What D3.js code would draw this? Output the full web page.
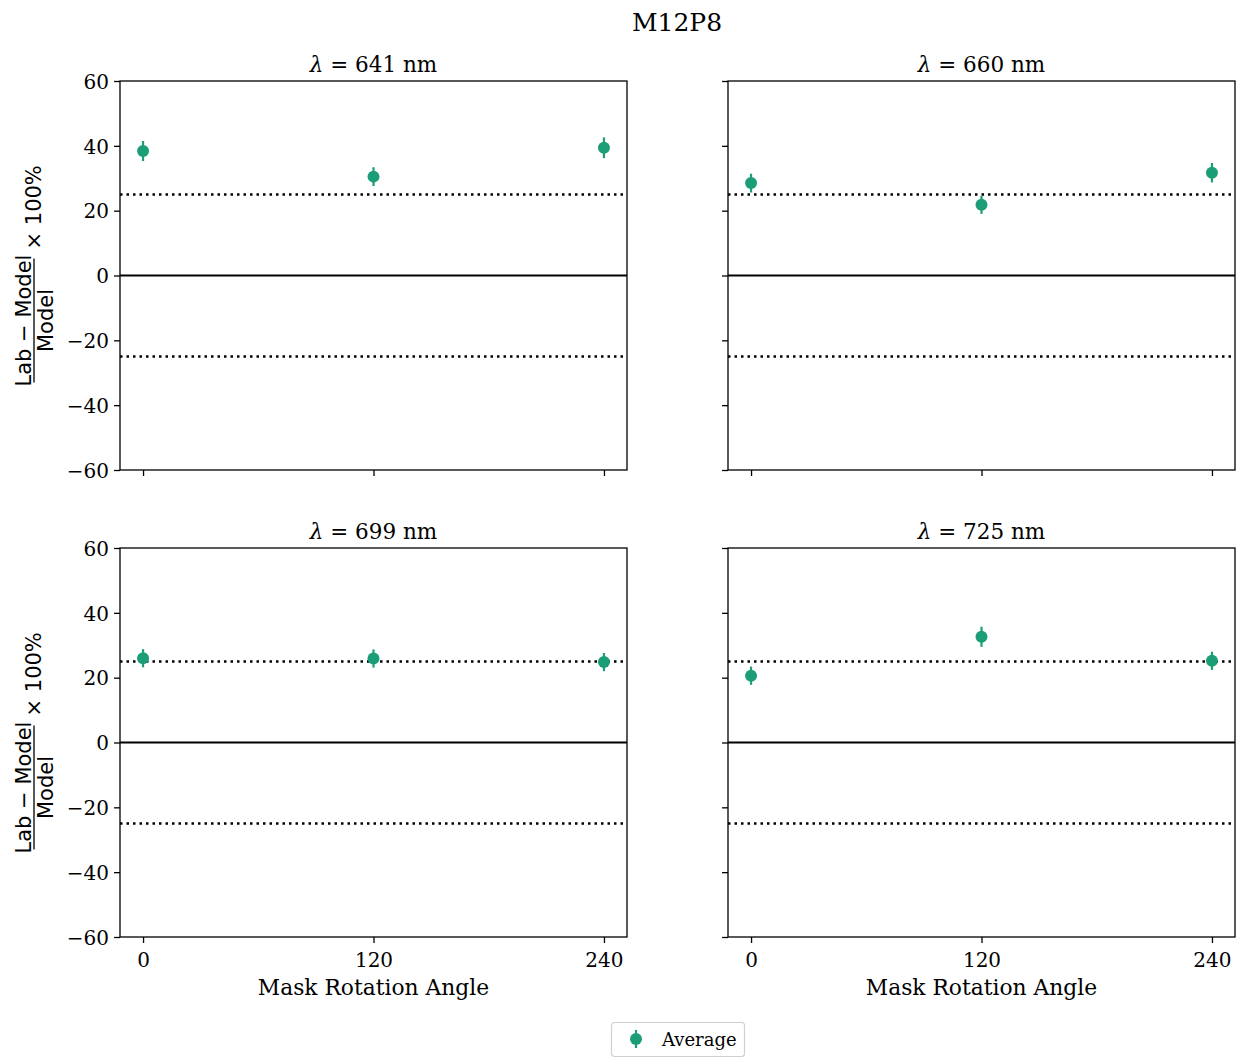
<!DOCTYPE html>
<html>
<head>
<meta charset="utf-8">
<script src="https://cdn.jsdelivr.net/npm/d3@7"></script>
<style>
  html, body { margin: 0; padding: 0; background: #fff; }
  svg { display: block; }
  .serif { font-family: "DejaVu Serif", serif; }
  .sans { font-family: "DejaVu Sans", sans-serif; }
</style>
</head>
<body>
<svg id="chart" width="1243" height="1057"></svg>
<script>
// Relative deviation of lab measurement from model, per wavelength and mask angle
const angles = [0, 120, 240];
const wavelengths = [641, 660, 699, 725];
const avg641 = [38.4, 30.5, 39.4];
const err641 = [3.1, 2.9, 3.2];
const avg660 = [28.5, 21.8, 31.7];
const err660 = [2.9, 2.8, 3.0];
const avg699 = [26.0, 25.9, 24.8];
const err699 = [2.8, 2.8, 2.8];
const avg725 = [20.6, 32.6, 25.2];
const err725 = [2.8, 3.1, 2.8];
const yTicks = [-60, -40, -20, 0, 20, 40, 60];
const xTicks = [0, 120, 240];
const refLines = [25, -25];

const series = [
  { wl: wavelengths[0], avg: avg641, err: err641 },
  { wl: wavelengths[1], avg: avg660, err: err660 },
  { wl: wavelengths[2], avg: avg699, err: err699 },
  { wl: wavelengths[3], avg: avg725, err: err725 }
];

const color = "#1b9e77";
const W = 507, H = 389;
const origins = [[120, 81], [728, 81], [120, 548], [728, 548]];

const svg = d3.select("#chart");

const x = d3.scaleLinear().domain([-12, 252]).range([0, W]);
const y = d3.scaleLinear().domain([-60, 60]).range([H, 0]);

svg.append("text")
  .attr("class", "serif")
  .attr("x", 677).attr("y", 31)
  .attr("text-anchor", "middle")
  .attr("font-size", 25)
  .text("M12P8");

series.forEach((s, i) => {
  const [ox, oy] = origins[i];
  const col = i % 2, row = Math.floor(i / 2);
  const g = svg.append("g").attr("transform", `translate(${ox},${oy})`);

  // reference lines
  g.append("line")
    .attr("x1", 0).attr("x2", W)
    .attr("y1", y(0)).attr("y2", y(0))
    .attr("stroke", "#000").attr("stroke-width", 2.2);
  refLines.forEach(v => {
    g.append("line")
      .attr("x1", 0).attr("x2", W)
      .attr("y1", y(v)).attr("y2", y(v))
      .attr("stroke", "#000").attr("stroke-width", 2.5)
      .attr("stroke-dasharray", "2.5,4");
  });

  // error bars and markers
  const pts = angles.map((a, k) => ({ a, v: s.avg[k], e: s.err[k] }));
  g.selectAll(".eb").data(pts).enter().append("line")
    .attr("x1", d => x(d.a)).attr("x2", d => x(d.a))
    .attr("y1", d => y(d.v - d.e)).attr("y2", d => y(d.v + d.e))
    .attr("stroke", color).attr("stroke-width", 2.2);
  g.selectAll(".pt").data(pts).enter().append("circle")
    .attr("cx", d => x(d.a)).attr("cy", d => y(d.v))
    .attr("r", 6).attr("fill", color);

  // axes
  const yAxis = d3.axisLeft(y).tickValues(yTicks).tickSize(6).tickPadding(5);
  if (col === 1) yAxis.tickFormat("");
  const ya = g.append("g").call(yAxis);
  const xAxis = d3.axisBottom(x).tickValues(xTicks).tickSize(6).tickPadding(5).tickFormat(d3.format("d"));
  if (row === 0) xAxis.tickFormat("");
  const xa = g.append("g").attr("transform", `translate(0,${H})`).call(xAxis);
  [ya, xa].forEach(a => {
    a.select(".domain").remove();
    a.selectAll(".tick line").attr("stroke", "#000").attr("stroke-width", 1.3);
    a.selectAll(".tick text").attr("class", "serif").attr("font-size", 20).attr("fill", "#000");
  });
  ya.selectAll(".tick text").attr("dy", "0.36em");
  xa.selectAll(".tick text").attr("dy", "0.95em");

  // frame
  g.append("rect")
    .attr("x", 0).attr("y", 0).attr("width", W).attr("height", H)
    .attr("fill", "none").attr("stroke", "#000").attr("stroke-width", 1.3);

  // panel title
  const t = g.append("text")
    .attr("class", "serif")
    .attr("x", W / 2).attr("y", -9)
    .attr("text-anchor", "middle")
    .attr("font-size", 21.5);
  t.append("tspan").attr("font-style", "italic").text("λ");
  t.append("tspan").text(` = ${s.wl} nm`);

  if (row === 1) {
    g.append("text")
      .attr("class", "serif")
      .attr("x", W / 2).attr("y", H + 58)
      .attr("text-anchor", "middle")
      .attr("font-size", 21.8)
      .text("Mask Rotation Angle");
  }

  if (col === 0) {
    // y label: (Lab − Model) / Model × 100%
    const lab = svg.append("g")
      .attr("class", "sans")
      .attr("transform", `translate(34,${oy + H / 2}) rotate(-90)`);
    const fc = -45, fw = 124;
    lab.append("text").attr("x", fc).attr("y", -3)
      .attr("text-anchor", "middle").attr("font-size", 21)
      .text("Lab − Model");
    lab.append("line")
      .attr("x1", fc - fw / 2).attr("x2", fc + fw / 2)
      .attr("y1", 0).attr("y2", 0)
      .attr("stroke", "#000").attr("stroke-width", 1.3);
    lab.append("text").attr("x", fc).attr("y", 19)
      .attr("text-anchor", "middle").attr("font-size", 21)
      .text("Model");
    lab.append("text").attr("x", 26).attr("y", 7)
      .attr("font-size", 21)
      .text("× 100%");
  }
});

// legend
const lg = svg.append("g").attr("transform", "translate(611,1022)");
lg.append("rect")
  .attr("x", 0.5).attr("y", 0.5).attr("width", 133).attr("height", 34)
  .attr("rx", 3).attr("fill", "#fff")
  .attr("stroke", "#d0d0d0").attr("stroke-width", 1.2);
lg.append("line")
  .attr("x1", 25).attr("x2", 25).attr("y1", 8).attr("y2", 26)
  .attr("stroke", color).attr("stroke-width", 2.2);
lg.append("circle").attr("cx", 25).attr("cy", 17).attr("r", 6).attr("fill", color);
lg.append("text")
  .attr("class", "serif")
  .attr("x", 51).attr("y", 24)
  .attr("font-size", 18)
  .text("Average");
</script>
</body>
</html>
